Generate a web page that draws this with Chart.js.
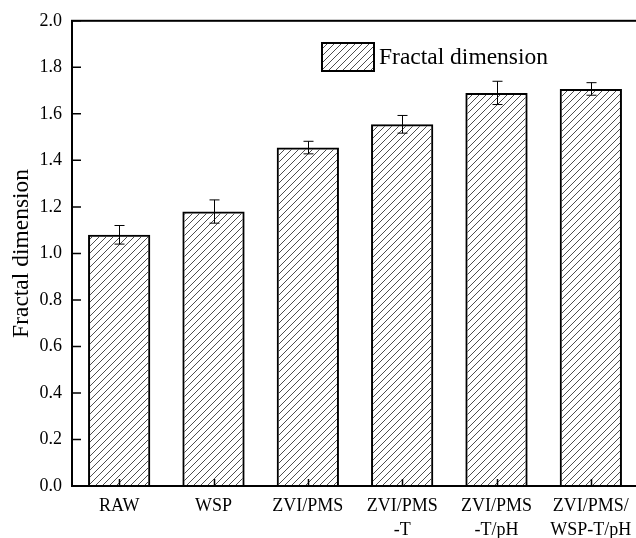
<!DOCTYPE html>
<html>
<head>
<meta charset="utf-8">
<script src="https://cdn.jsdelivr.net/npm/chart.js@4"></script>
<style>
  html, body { margin: 0; padding: 0; background: #fff; overflow: hidden; }
  #wrap { width: 642px; height: 538px; }
</style>
</head>
<body>
<div id="wrap"><canvas id="fdChart" width="642" height="538"></canvas></div>
<script>
const categories = ['RAW', 'WSP', 'ZVI/PMS', ['ZVI/PMS', '-T'], ['ZVI/PMS', '-T/pH'], ['ZVI/PMS/', 'WSP-T/pH']];
const fractalDim = [1.08, 1.18, 1.455, 1.555, 1.69, 1.707];
const fractalErr = [0.04, 0.05, 0.027, 0.038, 0.05, 0.027];
const yTicks = [0, 0.2, 0.4, 0.6, 0.8, 1.0, 1.2, 1.4, 1.6, 1.8, 2.0];

const FONT = '"Liberation Serif", "Times New Roman", serif';

function makeHatch() {
    const c = document.createElement('canvas');
    c.width = 7; c.height = 7;
    const g = c.getContext('2d');
    g.strokeStyle = '#3a3a3a';
    g.lineWidth = 0.9;
    g.beginPath();
    g.moveTo(0, 7); g.lineTo(7, 0);
    g.moveTo(-1, 1); g.lineTo(1, -1);
    g.moveTo(6, 8); g.lineTo(8, 6);
    g.stroke();
    return g.createPattern(c, 'repeat');
}
const hatch = makeHatch();

// frame, inward ticks, error bars, legend
const extras = {
    id: 'extras',
    afterDatasetsDraw(chart) {
        const ctx = chart.ctx;
        const a = chart.chartArea;
        const xs = chart.scales.x, ys = chart.scales.y;
        ctx.save();
        ctx.strokeStyle = '#000';

        // error bars
        ctx.lineWidth = 1;
        const meta = chart.getDatasetMeta(0);
        meta.data.forEach((bar, i) => {
            const x = Math.round(bar.x) + 0.5;
            const yTop = ys.getPixelForValue(fractalDim[i] + fractalErr[i]);
            const yBot = ys.getPixelForValue(fractalDim[i] - fractalErr[i]);
            ctx.beginPath();
            ctx.moveTo(x, yTop); ctx.lineTo(x, yBot);
            ctx.moveTo(x - 5, yTop); ctx.lineTo(x + 5, yTop);
            ctx.moveTo(x - 5, yBot); ctx.lineTo(x + 5, yBot);
            ctx.stroke();
        });

        // frame
        ctx.lineWidth = 2;
        ctx.strokeRect(a.left, a.top, a.right - a.left, a.bottom - a.top);

        // inward ticks
        ctx.lineWidth = 1.5;
        ctx.beginPath();
        yTicks.forEach(v => {
            const y = ys.getPixelForValue(v);
            ctx.moveTo(a.left, y); ctx.lineTo(a.left + 9, y);
        });
        categories.forEach((c, i) => {
            const x = Math.round(xs.getPixelForValue(i)) + 0.5;
            ctx.moveTo(x, a.bottom); ctx.lineTo(x, a.bottom - 7);
        });
        ctx.stroke();

        // legend
        const ds = chart.data.datasets[0];
        ctx.fillStyle = ds.backgroundColor;
        ctx.fillRect(322, 43, 52, 28);
        ctx.lineWidth = 2;
        ctx.strokeRect(322, 43, 52, 28);
        ctx.fillStyle = '#000';
        ctx.font = '23.5px ' + FONT;
        ctx.textBaseline = 'middle';
        ctx.fillText(ds.label, 379, 58);
        ctx.restore();
    }
};

new Chart(document.getElementById('fdChart'), {
    type: 'bar',
    data: {
        labels: categories,
        datasets: [{
            label: 'Fractal dimension',
            data: fractalDim,
            backgroundColor: hatch,
            borderColor: '#000',
            borderWidth: 2,
            barPercentage: 0.66,
            categoryPercentage: 1
        }]
    },
    options: {
        responsive: false,
        animation: false,
        devicePixelRatio: 1,
        layout: { padding: { left: 0, top: 19, right: 4, bottom: 0 } },
        plugins: { legend: { display: false }, tooltip: { enabled: false } },
        scales: {
            x: {
                offset: true,
                grid: { display: false, drawTicks: false },
                border: { display: false },
                ticks: {
                    color: '#000',
                    font: { family: FONT, size: 18, lineHeight: 1.33 },
                    padding: 8,
                    maxRotation: 0,
                    autoSkip: false
                },
                afterFit(scale) { scale.height = 52; }
            },
            y: {
                min: 0,
                max: 2,
                grid: { display: false, drawTicks: false },
                border: { display: false },
                ticks: {
                    stepSize: 0.2,
                    color: '#000',
                    font: { family: FONT, size: 18 },
                    padding: 10,
                    callback: v => v.toFixed(1)
                },
                title: {
                    display: true,
                    text: 'Fractal dimension',
                    color: '#000',
                    font: { family: FONT, size: 23.5 },
                    padding: { top: 8, bottom: 0 }
                },
                afterFit(scale) { scale.width = 72; }
            }
        }
    },
    plugins: [extras]
});
</script>
</body>
</html>
